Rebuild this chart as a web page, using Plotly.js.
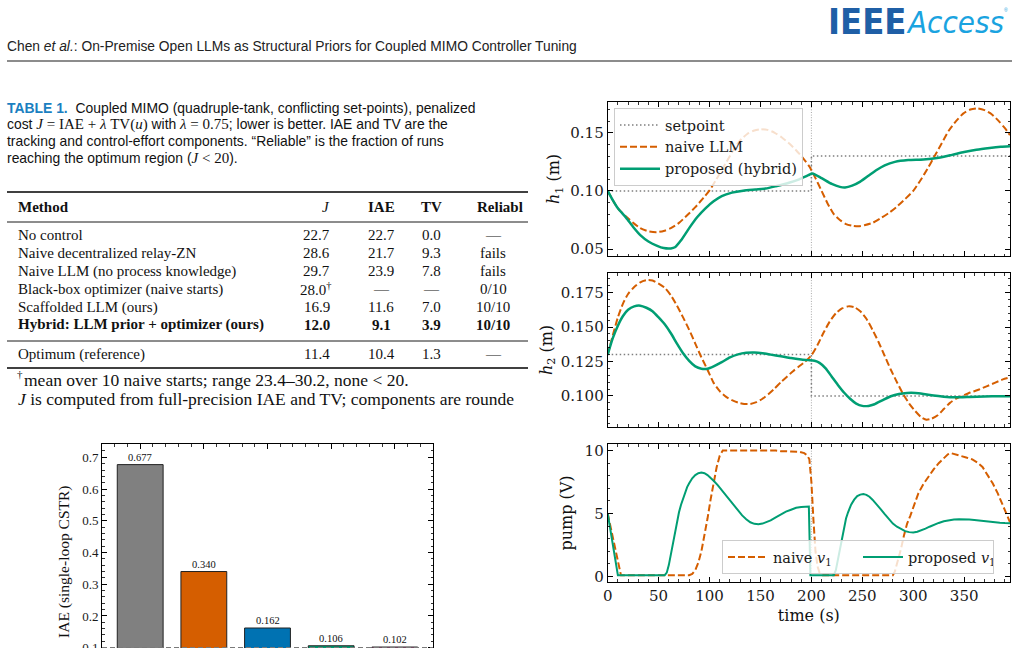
<!DOCTYPE html>
<html>
<head>
<meta charset="utf-8">
<script src="https://cdn.plot.ly/plotly-3.0.1.min.js"></script>
<style>
  html, body { margin: 0; padding: 0; background: #fff; overflow: hidden; width: 1019px; height: 648px; }
  #page { width: 1019px; height: 648px; overflow: hidden; position: relative; }
  #chart { width: 1019px; height: 720px; }
</style>
</head>
<body>
<div id="page"><div id="chart"></div></div>
<script>
// ---------- Table 1 data ----------
const methods = [
  'No control',
  'Naive decentralized relay-ZN',
  'Naive LLM (no process knowledge)',
  'Black-box optimizer (naive starts)',
  'Scaffolded LLM (ours)',
  'Hybrid: LLM prior + optimizer (ours)'
];
const jVals = [22.7, 28.6, 29.7, 28.0, 16.9, 12.0];
const jMarks = ['', '', '', '<sup>†</sup>', '', ''];
const iaeVals = [22.7, 21.7, 23.9, null, 11.6, 9.1];
const tvVals = [0.0, 9.3, 7.8, null, 7.0, 3.9];
const reliable = ['—', 'fails', 'fails', '0/10', '10/10', '10/10'];
const optimumRow = { name: 'Optimum (reference)', j: 11.4, iae: 10.4, tv: 1.3, rel: '—' };

// ---------- single-loop CSTR bar chart ----------
const barValues = [0.677, 0.340, 0.162, 0.106, 0.102];
const barColors = ['#808080', '#d55e00', '#0072b2', '#009e73', '#cc79a7'];
const barRefLevel = 0.1;

// ---------- coupled MIMO time responses ----------
const spTime = [0, 200, 200, 395];
const h1Setpoint = [0.10, 0.10, 0.13, 0.13];
const h2Setpoint = [0.13, 0.13, 0.10, 0.10];
const stepTime = 200;

const tH1Naive = [0,5,10,18,25,32,40,48,55,62,70,78,86,94,100,106,112,118,124,130,137,144,150,157,164,171,178,185,192,198,204,210,216,222,228,234,240,246,252,260,268,276,284,292,300,307,314,321,328,335,342,349,356,363,370,377,384,390,395];
const h1Naive = [0.100,0.092,0.085,0.078,0.0725,0.068,0.0652,0.0645,0.0655,0.068,0.0725,0.079,0.086,0.094,0.1005,0.109,0.118,0.127,0.136,0.1435,0.149,0.152,0.153,0.1525,0.150,0.146,0.141,0.135,0.128,0.121,0.111,0.100,0.089,0.080,0.075,0.0715,0.0700,0.0695,0.0705,0.0725,0.0765,0.081,0.0865,0.093,0.100,0.109,0.119,0.130,0.141,0.152,0.160,0.1665,0.170,0.171,0.1695,0.166,0.160,0.154,0.148];

const tH1Prop = [0,5,10,18,25,32,40,48,55,62,66,72,80,88,96,104,112,122,133,145,155,165,178,188,197,201,210,220,228,233,240,248,256,264,272,282,295,310,325,338,350,362,375,386,395];
const h1Prop = [0.100,0.092,0.085,0.077,0.069,0.062,0.0565,0.053,0.0508,0.0505,0.0515,0.0575,0.068,0.0775,0.085,0.091,0.0955,0.0985,0.1002,0.1012,0.102,0.104,0.107,0.110,0.1135,0.115,0.111,0.106,0.1035,0.103,0.1045,0.108,0.113,0.118,0.122,0.125,0.1265,0.127,0.1285,0.131,0.1335,0.1355,0.137,0.138,0.1385];

const tH2Naive = [0,5,10,15,20,26,32,38,44,50,56,62,68,74,80,86,92,98,104,110,116,122,128,134,140,146,152,158,164,170,176,182,188,194,200,206,212,218,224,230,236,242,248,254,260,266,272,278,284,290,296,302,308,313,318,324,330,336,342,348,356,364,372,380,388,395];
const h2Naive = [0.130,0.144,0.157,0.167,0.174,0.179,0.1825,0.184,0.1838,0.1815,0.1785,0.173,0.1655,0.157,0.148,0.138,0.128,0.119,0.1095,0.1035,0.0995,0.097,0.0952,0.0942,0.0942,0.0955,0.098,0.1015,0.1055,0.110,0.114,0.118,0.1215,0.125,0.1295,0.137,0.146,0.154,0.160,0.1635,0.165,0.1645,0.1615,0.156,0.148,0.139,0.129,0.119,0.110,0.1015,0.0945,0.089,0.0845,0.0828,0.0835,0.086,0.0905,0.095,0.098,0.100,0.1025,0.1045,0.107,0.1095,0.112,0.1135];

const tH2Prop = [0,5,10,15,20,26,32,38,44,50,56,62,68,74,80,86,92,98,104,112,120,128,136,144,152,160,170,180,190,197,203,208,214,220,226,232,238,244,250,256,262,270,278,286,294,302,310,320,330,340,355,370,385,395];
const h2Prop = [0.130,0.142,0.151,0.158,0.1625,0.165,0.1655,0.164,0.1615,0.157,0.152,0.1455,0.138,0.131,0.1255,0.1215,0.1198,0.1198,0.1215,0.1245,0.128,0.1302,0.1313,0.1315,0.131,0.130,0.1288,0.1275,0.1265,0.126,0.1255,0.124,0.120,0.114,0.108,0.1025,0.098,0.0945,0.0928,0.0928,0.094,0.097,0.0998,0.1015,0.1022,0.1022,0.1015,0.1003,0.0995,0.099,0.0993,0.0997,0.0998,0.0998];

const tPumpNaive = [0,13,80,83,86,89,92,95,98,101,104,107,110,113,165,170,180,188,193,196,198,200,202,204,206,208,211,280,282,285,288,291,294,297,300,305,310,315,320,325,330,334,337,341,346,352,358,363,368,373,378,383,388,392,395];
const pumpNaive = [5.0,0.1,0.1,0.2,0.5,1.1,2.0,3.2,4.6,6.1,7.5,8.7,9.6,10.0,10.0,9.95,9.93,9.9,9.8,9.6,9.3,7.5,4.5,2.0,0.8,0.3,0.1,0.1,0.4,1.2,2.2,3.3,4.2,4.8,5.5,6.6,7.35,7.95,8.5,9.0,9.4,9.7,9.8,9.72,9.58,9.45,9.3,9.05,8.7,8.1,7.4,6.6,5.7,4.95,4.3];

const tPumpProp = [0,10,56,58,60,62,64,66,68,70,72,74,76,78,80,83,86,89,92,95,98,101,104,108,112,116,120,124,128,132,136,140,144,148,152,156,160,165,170,175,180,185,190,196,197.5,199,222,224,226,228,230,232,234,236,239,242,245,248,251,254,257,260,264,268,272,276,280,284,288,292,296,300,304,308,312,316,320,325,330,335,340,345,350,355,360,366,372,378,385,390,395];
const pumpProp = [5.0,0.1,0.1,0.3,0.9,1.8,2.7,3.6,4.4,5.1,5.7,6.2,6.7,7.1,7.4,7.8,8.05,8.2,8.25,8.2,8.05,7.85,7.6,7.25,6.85,6.4,6.0,5.6,5.2,4.85,4.55,4.3,4.18,4.15,4.2,4.3,4.45,4.7,4.95,5.15,5.3,5.45,5.52,5.56,5.56,0.1,0.1,0.5,1.3,2.2,3.1,3.9,4.6,5.1,5.7,6.1,6.38,6.5,6.55,6.48,6.33,6.1,5.75,5.35,4.95,4.55,4.2,3.95,3.75,3.6,3.52,3.5,3.55,3.65,3.8,3.95,4.1,4.25,4.38,4.47,4.52,4.55,4.55,4.52,4.48,4.42,4.35,4.3,4.26,4.24,4.23];

// ---------- page geometry helpers (pixels -> paper fractions) ----------
const W = 1019, H = 720;
const PX = v => v / W;
const PY = v => 1 - v / H;

const SERIF_T = 'Liberation Serif, Times New Roman, serif';
const SANS = 'Liberation Sans, Arial, Helvetica, sans-serif';
const NARROW = 'Liberation Sans Narrow, Arial Narrow, DejaVu Sans Condensed, sans-serif';
const SERIF_D = 'DejaVu Serif, serif';
const INK = '#111111';

const ORANGE = '#d55e00', GREEN = '#009e73', SPGRAY = '#7f7f7f';

function note(text, x, y, font, extra) {
  return Object.assign({
    text: text, x: PX(x), y: PY(y), xref: 'paper', yref: 'paper',
    showarrow: false, xanchor: 'left', yanchor: 'middle',
    borderpad: 0, borderwidth: 0, font: font
  }, extra || {});
}
function hline(x0, x1, y, width, color) {
  return { type: 'line', xref: 'paper', yref: 'paper', x0: PX(x0), x1: PX(x1),
           y0: PY(y), y1: PY(y), line: { color: color || '#000', width: width } };
}

const annotations = [];
const shapes = [];

// ---------- running header ----------
annotations.push(note('<b>IEEE</b>', 828, 21, { family: NARROW, size: 36, color: '#1f5fa6' }));
annotations.push(note('<i>Access</i>', 906, 22, { family: NARROW, size: 31, color: '#1aa3e0' }));
annotations.push(note('®', 1004, 10, { family: SANS, size: 5, color: '#1aa3e0' }));
annotations.push(note('Chen <i>et al.</i>: On-Premise Open LLMs as Structural Priors for Coupled MIMO Controller Tuning',
  7, 46, { family: SANS, size: 13.8, color: '#222' }));
shapes.push(hline(7, 1012, 61, 1.6, '#666'));

// ---------- table caption ----------
const capFont = { family: SANS, size: 13.9, color: INK };
const mth = s => '<span style="font-family:Liberation Serif, Times New Roman, serif;font-size:15px">' + s + '</span>';
const captionLines = [
  '<span style="color:#1a7fc1"><b>TABLE 1.</b></span>  Coupled MIMO (quadruple-tank, conflicting set-points), penalized',
  'cost ' + mth('<i>J</i> = IAE + <i>λ</i> TV(<i>u</i>)') + ' with ' + mth('<i>λ</i> = 0.75') + '; lower is better. IAE and TV are the',
  'tracking and control-effort components. “Reliable” is the fraction of runs',
  'reaching the optimum region (' + mth('<i>J</i> &lt; 20') + ').'
];
captionLines.forEach((t, i) => annotations.push(note(t, 7, 108 + 16.5 * i, capFont)));

// ---------- table body ----------
const tFont = { family: SERIF_T, size: 15, color: INK };
const colJ = 330, colIAE = 381, colTV = 431, colRel = 493;
const fmt = v => (v === null ? '—' : v.toFixed(1));

shapes.push(hline(7, 528, 192, 1.5));
shapes.push(hline(7, 528, 222, 0.9));
shapes.push(hline(7, 528, 341, 0.9));
shapes.push(hline(7, 528, 368, 1.5));

annotations.push(note('<b>Method</b>', 18, 207, tFont));
annotations.push(note('<i>J</i>', colJ, 207, tFont, { xanchor: 'right' }));
annotations.push(note('<b>IAE</b>', colIAE, 207, tFont, { xanchor: 'center' }));
annotations.push(note('<b>TV</b>', colTV, 207, tFont, { xanchor: 'center' }));
annotations.push(note('<b>Reliabl</b>', 477, 207, tFont));

methods.forEach((m, i) => {
  const y = 235 + 18 * i;
  const b = s => (i === methods.length - 1 ? '<b>' + s + '</b>' : s);
  annotations.push(note(b(m), 18, y, tFont));
  annotations.push(note(b(jVals[i].toFixed(1)) + jMarks[i], colJ, y, tFont,
    { xanchor: jMarks[i] ? 'left' : 'right', x: PX(jMarks[i] ? colJ - 30 : colJ) }));
  annotations.push(note(b(fmt(iaeVals[i])), colIAE, y, tFont, { xanchor: 'center' }));
  annotations.push(note(b(fmt(tvVals[i])), colTV, y, tFont, { xanchor: 'center' }));
  annotations.push(note(b(reliable[i]), colRel, y, tFont, { xanchor: 'center' }));
});
annotations.push(note(optimumRow.name, 18, 354, tFont));
annotations.push(note(optimumRow.j.toFixed(1), colJ, 354, tFont, { xanchor: 'right' }));
annotations.push(note(optimumRow.iae.toFixed(1), colIAE, 354, tFont, { xanchor: 'center' }));
annotations.push(note(optimumRow.tv.toFixed(1), colTV, 354, tFont, { xanchor: 'center' }));
annotations.push(note(optimumRow.rel, colRel, 354, tFont, { xanchor: 'center' }));

// footnotes
const fnFont = { family: SERIF_T, size: 17.5, color: INK };
annotations.push(note('†', 17, 374, { family: SERIF_T, size: 11, color: INK }));
annotations.push(note('mean over 10 naive starts; range 23.4–30.2, none &lt; 20.', 23.5, 380, fnFont));
annotations.push(note('<i>J</i> is computed from full-precision IAE and TV; components are rounde', 18, 399, fnFont));

// ---------- bar value labels ----------
barValues.forEach((v, i) => annotations.push({
  text: v.toFixed(3), x: i, y: v, xref: 'x', yref: 'y', showarrow: false,
  xanchor: 'center', yanchor: 'bottom', yshift: 1, borderpad: 0,
  font: { family: SERIF_T, size: 10.5, color: INK }
}));
shapes.push({ type: 'line', xref: 'x domain', yref: 'y', x0: 0, x1: 1, y0: barRefLevel, y1: barRefLevel,
  line: { color: '#7a7a7a', width: 1.2, dash: '5px,3px' } });

// ---------- step-time markers ----------
[['x2', 'y2'], ['x3', 'y3'], ['x4', 'y4']].forEach(([xa, ya]) => shapes.push({
  type: 'line', xref: xa, yref: ya + ' domain', x0: stepTime, x1: stepTime, y0: 0, y1: 1,
  layer: 'below', line: { color: '#a8a8a8', width: 1, dash: '1px,1.6px' }
}));

// ---------- traces ----------
const naiveLine = { color: ORANGE, width: 2, dash: '7px,3px', shape: 'spline', smoothing: 0.6 };
const propLine = { color: GREEN, width: 2.5, shape: 'spline', smoothing: 0.6 };
const spLine = { color: SPGRAY, width: 1.5, dash: '1.5px,2.5px' };

const traces = [
  { type: 'bar', x: barValues.map((_, i) => i), y: barValues, xaxis: 'x', yaxis: 'y',
    width: 0.72, marker: { color: barColors, line: { color: '#222', width: 1 } },
    showlegend: false, hoverinfo: 'skip' },

  { x: spTime, y: h1Setpoint, xaxis: 'x2', yaxis: 'y2', mode: 'lines', name: 'setpoint', line: spLine, legend: 'legend' },
  { x: tH1Naive, y: h1Naive, xaxis: 'x2', yaxis: 'y2', mode: 'lines', name: 'naive LLM', line: naiveLine, legend: 'legend' },
  { x: tH1Prop, y: h1Prop, xaxis: 'x2', yaxis: 'y2', mode: 'lines', name: 'proposed (hybrid)', line: propLine, legend: 'legend' },

  { x: spTime, y: h2Setpoint, xaxis: 'x3', yaxis: 'y3', mode: 'lines', line: spLine, showlegend: false },
  { x: tH2Naive, y: h2Naive, xaxis: 'x3', yaxis: 'y3', mode: 'lines', line: naiveLine, showlegend: false },
  { x: tH2Prop, y: h2Prop, xaxis: 'x3', yaxis: 'y3', mode: 'lines', line: propLine, showlegend: false },

  { x: tPumpNaive, y: pumpNaive, xaxis: 'x4', yaxis: 'y4', mode: 'lines', name: 'naive <i>v</i><sub>1</sub>',
    line: { color: ORANGE, width: 2, dash: '7px,3px' }, legend: 'legend2' },
  { x: tPumpProp, y: pumpProp, xaxis: 'x4', yaxis: 'y4', mode: 'lines', name: 'proposed <i>v</i><sub>1</sub>',
    line: { color: GREEN, width: 2 }, legend: 'legend2' }
];

// ---------- axes ----------
function sciAxis(extra, minorDtick, fontFamily, fontSize) {
  return Object.assign({
    showline: true, linecolor: '#000', linewidth: 1, mirror: 'allticks',
    ticks: 'inside', ticklen: 5, tickwidth: 1, tickcolor: '#000',
    showgrid: false, zeroline: false,
    tickfont: { family: fontFamily, size: fontSize, color: '#1a1a1a' },
    minor: { ticks: 'inside', ticklen: 2.5, tickwidth: 0.8, tickcolor: '#000', dtick: minorDtick, showgrid: false }
  }, extra);
}
const rightX = [PX(607.7), PX(1010)];
const axTitleFont = { family: SERIF_D, size: 16, color: INK };

const layout = {
  width: W, height: H, autosize: false,
  margin: { l: 0, r: 0, t: 0, b: 0, pad: 0 },
  paper_bgcolor: '#ffffff', plot_bgcolor: 'rgba(0,0,0,0)',
  showlegend: true,
  xaxis: sciAxis({ domain: [PX(102), PX(433)], anchor: 'y', range: [-0.6, 4.6],
    tickmode: 'linear', tick0: 0, dtick: 1, showticklabels: false }, 0.2, SERIF_T, 12),
  yaxis: sciAxis({ domain: [PY(679.4), PY(444)], anchor: 'x', range: [0, 0.742],
    tickmode: 'linear', tick0: 0, dtick: 0.1, tickformat: '.1f',
    title: { text: 'IAE (single-loop CSTR)', font: { family: SERIF_T, size: 15.5, color: INK }, standoff: 8 } },
    0.02, SERIF_T, 13),

  xaxis2: sciAxis({ domain: rightX, anchor: 'y2', range: [0, 395], matches: 'x4',
    tickmode: 'linear', tick0: 0, dtick: 50, showticklabels: false }, 10, SERIF_D, 15),
  yaxis2: sciAxis({ domain: [PY(256), PY(102)], anchor: 'x2', range: [0.044, 0.1765],
    tickmode: 'linear', tick0: 0, dtick: 0.05, tickformat: '.2f',
    title: { text: '<i>h</i><sub>1</sub> (m)', font: axTitleFont, standoff: 6 } },
    0.01, SERIF_D, 15),

  xaxis3: sciAxis({ domain: rightX, anchor: 'y3', range: [0, 395], matches: 'x4',
    tickmode: 'linear', tick0: 0, dtick: 50, showticklabels: false }, 10, SERIF_D, 15),
  yaxis3: sciAxis({ domain: [PY(426.7), PY(273.3)], anchor: 'x3', range: [0.0777, 0.189],
    tickmode: 'linear', tick0: 0, dtick: 0.025, tickformat: '.3f',
    title: { text: '<i>h</i><sub>2</sub> (m)', font: axTitleFont, standoff: 4 } },
    0.005, SERIF_D, 15),

  xaxis4: sciAxis({ domain: rightX, anchor: 'y4', range: [0, 395],
    tickmode: 'linear', tick0: 0, dtick: 50,
    title: { text: 'time (s)', font: axTitleFont, standoff: 6 } }, 10, SERIF_D, 15),
  yaxis4: sciAxis({ domain: [PY(581.7), PY(444.3)], anchor: 'x4', range: [-0.42, 10.5],
    tickmode: 'linear', tick0: 0, dtick: 5,
    title: { text: 'pump (V)', font: axTitleFont, standoff: 8 } },
    1, SERIF_D, 15),

  legend: {
    x: PX(614), y: PY(108), xanchor: 'left', yanchor: 'top',
    bgcolor: 'rgba(255,255,255,0.8)', bordercolor: '#cccccc', borderwidth: 1,
    itemwidth: 40,
    font: { family: SERIF_D, size: 14.5, color: '#1a1a1a' }, tracegroupgap: 0
  },
  legend2: {
    orientation: 'h', x: PX(722), y: PY(574), xanchor: 'left', yanchor: 'bottom',
    bgcolor: 'rgba(255,255,255,0.8)', bordercolor: '#cccccc', borderwidth: 1,
    itemwidth: 40, entrywidth: 80, entrywidthmode: 'pixels',
    font: { family: SERIF_D, size: 14.5, color: '#1a1a1a' }
  },
  annotations: annotations,
  shapes: shapes
};

Plotly.newPlot('chart', traces, layout, { displayModeBar: false, staticPlot: true });
</script>
</body>
</html>
